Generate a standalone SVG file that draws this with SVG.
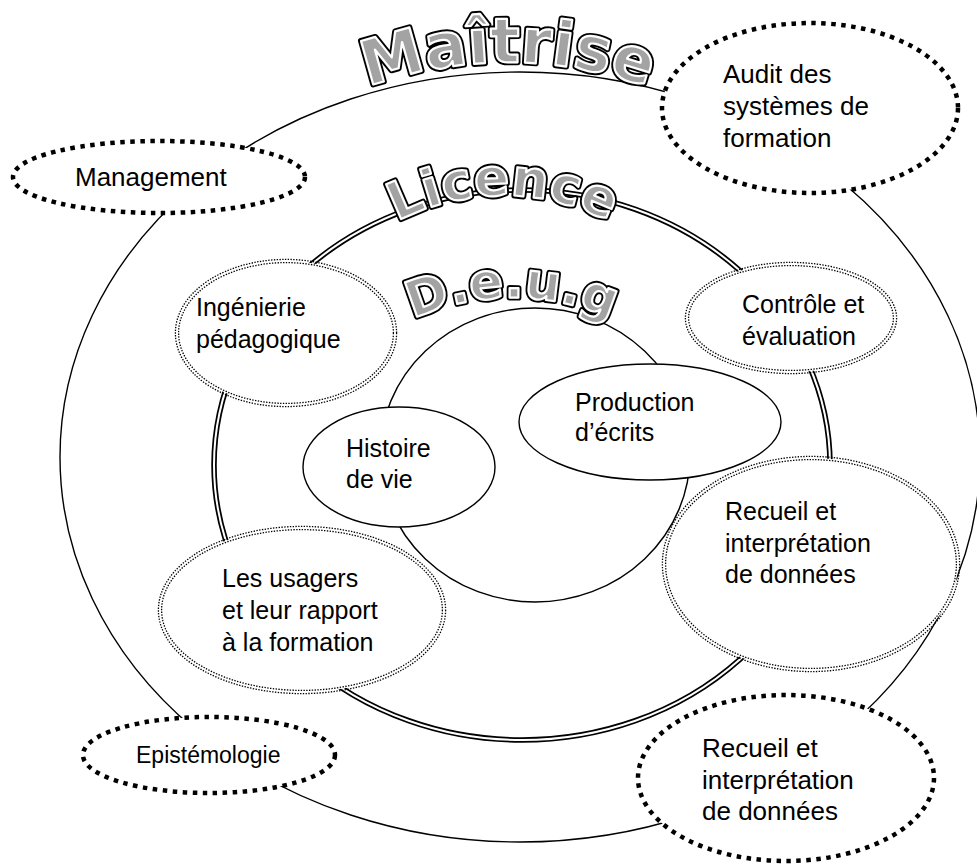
<svg xmlns="http://www.w3.org/2000/svg" width="977" height="865" viewBox="0 0 977 865">
<style>
.thin{fill:none;stroke:#000;stroke-width:1.4}
.node{fill:#fff;stroke:#000;stroke-width:1.4}
.thickdot{fill:#fff;stroke:#000;stroke-width:4.5;stroke-dasharray:4.5 5.5}
.wfill{fill:#fff;stroke:none}
.dd{fill:none;stroke:#000;stroke-width:1.3;stroke-dasharray:1.4 1.4}
.lbl{font-family:"Liberation Sans",Arial,sans-serif;font-size:25px;fill:#000}
.ttl{font-family:"DejaVu Sans",sans-serif;font-weight:bold;text-anchor:middle}
.ttl-o{fill:none;stroke:#000;stroke-width:6;stroke-linejoin:round}
.ttl-i{fill:#a3a3a3;stroke:#fff;stroke-width:2.2;stroke-linejoin:round}
</style>
<defs>
<path id="arcM" d="M258,148 A408,408 0 0 1 758,148"/>
<path id="arcL" d="M303,312 A230,230 0 0 1 703,312"/>
<path id="arcD" d="M312,405 A240,240 0 0 1 712,405"/>
</defs>
<rect width="977" height="865" fill="#fff"/>

<g id="rings">
<ellipse id="ring-maitrise" class="thin" cx="520" cy="457" rx="460" ry="385"/>
<g id="ring-licence">
<ellipse cx="522" cy="465" rx="308" ry="275" fill="none" stroke="#000" stroke-width="5.5"/>
<ellipse cx="522" cy="465" rx="308" ry="275" fill="none" stroke="#fff" stroke-width="2"/>
</g>
<ellipse id="ring-deug" class="thin" cx="535" cy="455" rx="155" ry="147"/>
</g>

<g id="node-production">
<ellipse class="node" cx="650" cy="422" rx="131" ry="58"/>
<text class="lbl" x="575" y="411">Production</text>
<text class="lbl" x="575" y="441">d’écrits</text>
</g>
<g id="node-histoire">
<ellipse class="node" cx="399" cy="467" rx="96" ry="60"/>
<text class="lbl" x="346" y="457">Histoire</text>
<text class="lbl" x="346" y="488">de vie</text>
</g>

<g id="node-ingenierie">
<ellipse class="wfill" cx="286" cy="333" rx="109" ry="72"/>
<ellipse class="dd" cx="286" cy="333" rx="107.4" ry="70.4"/>
<ellipse class="dd" cx="286" cy="333" rx="110.6" ry="73.6"/>
<text class="lbl" x="196" y="316">Ingénierie</text>
<text class="lbl" x="196" y="348">pédagogique</text>
</g>
<g id="node-controle">
<ellipse class="wfill" cx="791" cy="318" rx="104" ry="54"/>
<ellipse class="dd" cx="791" cy="318" rx="102.4" ry="52.4"/>
<ellipse class="dd" cx="791" cy="318" rx="105.6" ry="55.6"/>
<text class="lbl" x="742" y="313">Contrôle et</text>
<text class="lbl" x="742" y="345">évaluation</text>
</g>
<g id="node-recueil-licence">
<ellipse class="wfill" cx="811" cy="564" rx="147" ry="106"/>
<ellipse class="dd" cx="811" cy="564" rx="145.4" ry="104.4"/>
<ellipse class="dd" cx="811" cy="564" rx="148.6" ry="107.6"/>
<text class="lbl" x="725" y="520">Recueil et</text>
<text class="lbl" x="725" y="552">interprétation</text>
<text class="lbl" x="725" y="583">de données</text>
</g>
<g id="node-usagers">
<ellipse class="wfill" cx="302" cy="610" rx="142" ry="82"/>
<ellipse class="dd" cx="302" cy="610" rx="140.4" ry="80.4"/>
<ellipse class="dd" cx="302" cy="610" rx="143.6" ry="83.6"/>
<text class="lbl" x="222" y="587">Les usagers</text>
<text class="lbl" x="222" y="619">et leur rapport</text>
<text class="lbl" x="222" y="651">à la formation</text>
</g>

<g id="node-management">
<ellipse class="thickdot" cx="159" cy="177" rx="146" ry="36"/>
<text class="lbl" x="75" y="186" style="font-size:26px">Management</text>
</g>
<g id="node-audit">
<ellipse class="thickdot" cx="810" cy="108" rx="148" ry="85"/>
<text class="lbl" x="723" y="83" style="font-size:26px">Audit des</text>
<text class="lbl" x="723" y="115" style="font-size:26px">systèmes de</text>
<text class="lbl" x="723" y="147" style="font-size:26px">formation</text>
</g>
<g id="node-epistemologie">
<ellipse class="thickdot" cx="209" cy="755" rx="126" ry="38"/>
<text class="lbl" x="136" y="763" style="font-size:23px">Epistémologie</text>
</g>
<g id="node-recueil-maitrise">
<ellipse class="thickdot" cx="786" cy="778" rx="148" ry="83"/>
<text class="lbl" x="702" y="757" style="font-size:26px">Recueil et</text>
<text class="lbl" x="702" y="789" style="font-size:26px">interprétation</text>
<text class="lbl" x="702" y="820" style="font-size:26px">de données</text>
</g>

<g id="title-maitrise" class="ttl" style="font-size:62px">
<text class="ttl-o"><textPath href="#arcM" startOffset="50%">Maîtrise</textPath></text>
<text class="ttl-i"><textPath href="#arcM" startOffset="50%">Maîtrise</textPath></text>
</g>
<g id="title-licence" class="ttl" style="font-size:52px">
<text class="ttl-o"><textPath href="#arcL" startOffset="50%">Licence</textPath></text>
<text class="ttl-i"><textPath href="#arcL" startOffset="50%">Licence</textPath></text>
</g>
<g id="title-deug" class="ttl" style="font-size:50px">
<text class="ttl-o"><textPath href="#arcD" startOffset="50%">D.e.u.g</textPath></text>
<text class="ttl-i"><textPath href="#arcD" startOffset="50%">D.e.u.g</textPath></text>
</g>
</svg>
